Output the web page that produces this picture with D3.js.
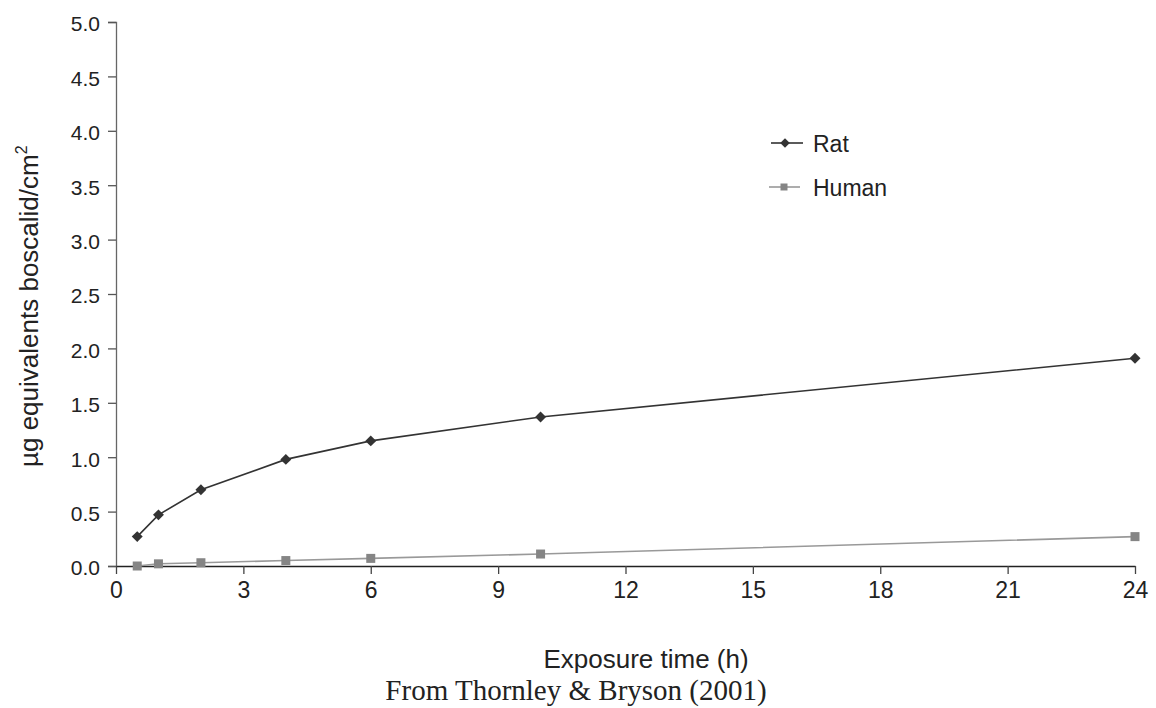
<!DOCTYPE html>
<html>
<head>
<meta charset="utf-8">
<script src="https://cdn.jsdelivr.net/npm/d3@7"></script>
<style>
  body { margin: 0; background: #fff; }
  svg { display: block; }
</style>
</head>
<body>
<div id="chart"></div>
<script>
// data
var hours = [0.5, 1, 2, 4, 6, 10, 24];
var ratValues = [0.27, 0.47, 0.70, 0.98, 1.15, 1.37, 1.91];
var humanValues = [0.00, 0.02, 0.03, 0.05, 0.07, 0.11, 0.27];
var xTicks = [0, 3, 6, 9, 12, 15, 18, 21, 24];
var yTicks = [0, 0.5, 1, 1.5, 2, 2.5, 3, 3.5, 4, 4.5, 5];
var seriesNames = ["Rat", "Human"];

var W = 1156, H = 708;
var margin = { top: 22, right: 21, bottom: 142, left: 116 },
    width = W - margin.left - margin.right,
    height = H - margin.top - margin.bottom;

var sans = "'Liberation Sans', Arial, sans-serif";

var svg = d3.select("#chart").append("svg")
    .attr("width", W)
    .attr("height", H)
    .style("font-family", sans);

var g = svg.append("g")
    .attr("transform", "translate(" + margin.left + "," + margin.top + ")");

var x = d3.scaleLinear().domain([0, 24]).range([0, width]);
var y = d3.scaleLinear().domain([0, 5]).range([height, 0]);

// y axis
var yAxis = g.append("g")
    .call(d3.axisLeft(y).tickValues(yTicks).tickFormat(d3.format(".1f")).tickSize(8).tickPadding(8));
yAxis.select(".domain").attr("stroke", "#666").attr("stroke-width", 1.3);
yAxis.selectAll(".tick line").attr("stroke", "#555").attr("stroke-width", 1.3);
yAxis.selectAll(".tick text").attr("fill", "#222").attr("dy", "0.42em")
    .style("font-size", "21px").style("font-family", sans);

// x axis
var xAxis = g.append("g")
    .attr("transform", "translate(0," + height + ")")
    .call(d3.axisBottom(x).tickValues(xTicks).tickSize(8).tickPadding(8).tickSizeOuter(0));
xAxis.select(".domain").attr("stroke", "#222").attr("stroke-width", 1.5);
xAxis.selectAll(".tick line").attr("stroke", "#444").attr("stroke-width", 1.3);
xAxis.selectAll(".tick text").attr("fill", "#222")
    .style("font-size", "23px").style("font-family", sans);

var ratData = hours.map(function (h, i) { return { x: h, y: ratValues[i] }; });
var humanData = hours.map(function (h, i) { return { x: h, y: humanValues[i] }; });

var line = d3.line()
    .x(function (d) { return x(d.x); })
    .y(function (d) { return y(d.y); });

// human series
g.append("path")
    .datum(humanData)
    .attr("fill", "none")
    .attr("stroke", "#999")
    .attr("stroke-width", 1.6)
    .attr("d", line);
g.selectAll(".hum")
    .data(humanData)
    .enter().append("rect")
    .attr("class", "hum")
    .attr("x", function (d) { return x(d.x) - 4.5; })
    .attr("y", function (d) { return y(d.y) - 4.5; })
    .attr("width", 9)
    .attr("height", 9)
    .attr("fill", "#858585");

// rat series
g.append("path")
    .datum(ratData)
    .attr("fill", "none")
    .attr("stroke", "#333")
    .attr("stroke-width", 1.6)
    .attr("d", line);
var diamond = d3.symbol().type(d3.symbolSquare).size(60);
g.selectAll(".rat")
    .data(ratData)
    .enter().append("path")
    .attr("class", "rat")
    .attr("transform", function (d) { return "translate(" + x(d.x) + "," + y(d.y) + ") rotate(45)"; })
    .attr("d", diamond)
    .attr("fill", "#333");

// legend
var legend = svg.append("g").attr("transform", "translate(770,143)");
var lg = legend.selectAll(".lg")
    .data(seriesNames)
    .enter().append("g")
    .attr("transform", function (d, i) { return "translate(0," + (i * 44) + ")"; });
lg.append("line")
    .attr("x1", function (d, i) { return i === 0 ? 1 : -1; })
    .attr("x2", function (d, i) { return i === 0 ? 33 : 30; })
    .attr("stroke", function (d, i) { return i === 0 ? "#333" : "#999"; })
    .attr("stroke-width", 1.6);
lg.each(function (d, i) {
    var s = d3.select(this);
    if (i === 0) {
        s.append("path").attr("transform", "translate(15,0) rotate(45)")
            .attr("d", d3.symbol().type(d3.symbolSquare).size(45)).attr("fill", "#333");
    } else {
        s.append("rect").attr("x", 10.5).attr("y", -3.5).attr("width", 7).attr("height", 7).attr("fill", "#858585");
    }
});
lg.append("text")
    .attr("x", 43)
    .attr("y", 8.5)
    .attr("fill", "#222")
    .style("font-size", "23px")
    .text(function (d) { return d; });

// axis titles
svg.append("text")
    .attr("transform", "translate(38,467) rotate(-90)")
    .attr("text-anchor", "start")
    .attr("fill", "#222")
    .style("font-size", "26px")
    .text("µg equivalents boscalid/cm")
    .append("tspan")
    .attr("dy", -11)
    .style("font-size", "16px")
    .text("2");

svg.append("text")
    .attr("x", 646)
    .attr("y", 668)
    .attr("text-anchor", "middle")
    .attr("fill", "#222")
    .style("font-size", "26px")
    .text("Exposure time (h)");

svg.append("text")
    .attr("x", 576)
    .attr("y", 700)
    .attr("text-anchor", "middle")
    .attr("fill", "#222")
    .style("font-family", "'Liberation Serif', 'Times New Roman', serif")
    .style("font-size", "29px")
    .text("From Thornley & Bryson (2001)");
</script>
</body>
</html>
